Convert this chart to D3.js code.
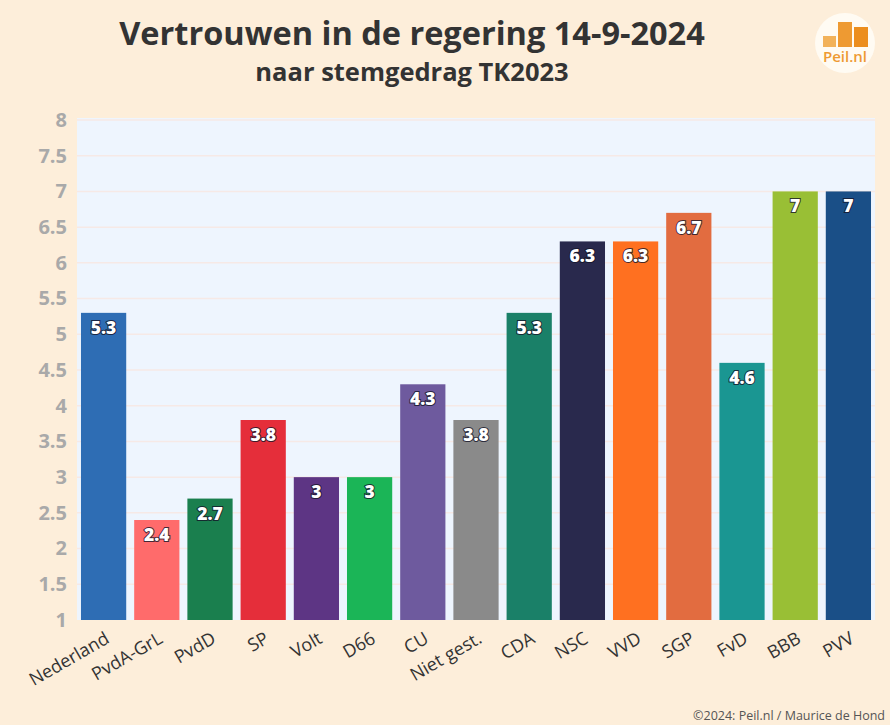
<!DOCTYPE html>
<html><head><meta charset="utf-8">
<script src="https://cdn.jsdelivr.net/npm/d3@7"></script>
<style>
body{margin:0;background:#FDEEDA;}
svg{display:block;font-family:"Open Sans","Noto Sans",sans-serif;}
</style></head>
<body><svg id="c" width="890" height="725"></svg>
<script>
const categories=["Nederland","PvdA-GrL","PvdD","SP","Volt","D66","CU","Niet gest.","CDA","NSC","VVD","SGP","FvD","BBB","PVV"];
const values=[5.3,2.4,2.7,3.8,3,3,4.3,3.8,5.3,6.3,6.3,6.7,4.6,7,7];
const colors=["#2E6DB4","#FF6B6B","#1A7F4E","#E52E3A","#5D3584","#1BB557","#6E5A9E","#8A8A8A","#1A8068","#29294D","#FF7020","#E26C40","#1A9692","#99BF35","#1A4F87"];
const yTicks=[1,1.5,2,2.5,3,3.5,4,4.5,5,5.5,6,6.5,7,7.5,8];
const title="Vertrouwen in de regering 14-9-2024";
const subtitle="naar stemgedrag TK2023";
const footer="©2024: Peil.nl / Maurice de Hond";

const svg=d3.select("#c");
svg.append("rect").attr("width",890).attr("height",725).attr("fill","#FDEEDA");
const L=77,R=875,T=120,B=620;
const x=d3.scaleBand().domain(categories).range([L,R]).paddingInner(0.15).paddingOuter(0.075);
const y=d3.scaleLinear().domain([1,8]).range([B,T]);

svg.append("rect").attr("x",L).attr("y",T-2).attr("width",R-L).attr("height",B-T+2).attr("fill","#EEF5FE");
svg.append("g").selectAll("line").data(yTicks.slice(1)).join("line")
 .attr("x1",L).attr("x2",R).attr("y1",d=>y(d)).attr("y2",d=>y(d))
 .attr("stroke","#F6E9E6").attr("stroke-width",1.5);

const ax=svg.append("g").attr("transform",`translate(${L},0)`)
 .call(d3.axisLeft(y).tickValues(yTicks).tickSize(0).tickPadding(10).tickFormat(d=>String(d)));
ax.select(".domain").remove();
ax.selectAll("text").attr("fill","#A9A9A9").attr("font-size",20).attr("font-weight",700).attr("font-family","'Open Sans',sans-serif");

svg.append("g").selectAll("rect").data(categories).join("rect")
 .attr("x",d=>x(d)).attr("width",x.bandwidth())
 .attr("y",(d,i)=>y(values[i])).attr("height",(d,i)=>B-y(values[i]))
 .attr("fill",(d,i)=>colors[i]);

svg.append("g").selectAll("text").data(categories).join("text")
 .attr("x",d=>x(d)+x.bandwidth()/2).attr("y",(d,i)=>y(values[i])+21)
 .attr("text-anchor","middle").attr("font-size",17.5).attr("font-weight",800)
 .attr("fill","#fff").attr("stroke","rgba(20,20,40,0.8)").attr("stroke-width",2).attr("paint-order","stroke")
 .text((d,i)=>String(values[i]));

const bx=svg.append("g").attr("transform",`translate(0,${B})`)
 .call(d3.axisBottom(x).tickSize(0).tickPadding(0));
bx.select(".domain").remove();
bx.selectAll("text").attr("fill","#333").attr("font-size",18).attr("font-family","'Open Sans',sans-serif")
 .attr("text-anchor","end").attr("dy",0)
 .attr("transform","translate(7,22) rotate(-30)");

svg.append("text").attr("x",412).attr("y",45).attr("text-anchor","middle")
 .attr("font-size",32.5).attr("font-weight",700).attr("fill","#333").text(title);
svg.append("text").attr("x",412).attr("y",81).attr("text-anchor","middle")
 .attr("font-size",25.5).attr("font-weight",700).attr("fill","#333").text(subtitle);
svg.append("text").attr("x",885).attr("y",720).attr("text-anchor","end")
 .attr("font-size",12.5).attr("fill","#555").text(footer);

// logo
const lg=svg.append("g").attr("transform","translate(845,43)");
lg.append("circle").attr("r",30).attr("fill","#FFFBF3");
const logoBars=[{x:-22,y:-7,w:13,h:11,c:"#F2B25A"},{x:-7,y:-21,w:14,h:25,c:"#EE9A32"},{x:9,y:-16,w:14,h:20,c:"#EC8E1E"}];
lg.selectAll("rect").data(logoBars).join("rect").attr("x",d=>d.x).attr("y",d=>d.y).attr("width",d=>d.w).attr("height",d=>d.h).attr("fill",d=>d.c);
lg.append("text").attr("x",0).attr("y",19).attr("text-anchor","middle").attr("font-size",15).attr("fill","#EE9A32").attr("font-weight",600).text("Peil.nl");
</script></body></html>
